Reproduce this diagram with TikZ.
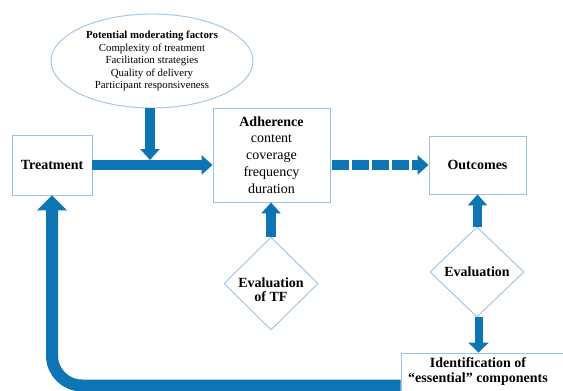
\documentclass[tikz,border=0pt]{standalone}
\usepackage{fontspec}
\setmainfont{Liberation Serif}
\usepackage{xcolor}
\usepackage{tikz}
\usetikzlibrary{arrows.meta}
\usetikzlibrary{shapes.geometric}
\definecolor{flowblue}{RGB}{14,117,181}
\definecolor{edgeblue}{RGB}{155,194,230}
\tikzset{
    box/.style={draw=edgeblue, line width=0.9pt, fill=white, rectangle, inner sep=0pt,
        font=\fontsize{14}{16.8}\selectfont, align=center},
    decision/.style={draw=edgeblue, line width=0.9pt, fill=white, diamond, inner sep=0pt},
    boxtext/.style={font=\fontsize{14}{14.5}\selectfont\bfseries, align=center, inner sep=0pt},
    blockarrow/.style={draw=flowblue, line width=9.5pt, -{Triangle[width=19pt, length=11pt]}},
    feedback/.style={draw=flowblue, line width=12pt, rounded corners=30pt,
        -{Triangle[width=29pt, length=15pt]}}
}
\begin{document}
\begin{tikzpicture}[x=1pt, y=-1pt]
    \useasboundingbox (0,0) rectangle (563,391);
    % boxes
    \node[draw=edgeblue, line width=0.9pt, ellipse, minimum width=202pt, minimum height=94pt, inner sep=0pt,
        font=\fontsize{10.8}{12.5}\selectfont, align=center] (factors) at (152,61)
        {\textbf{Potential moderating factors}\\Complexity of treatment\\Facilitation strategies\\Quality of delivery\\Participant responsiveness};
    \node[box, minimum width=80pt, minimum height=60pt] (treatment) at (52,165) {\textbf{Treatment}};
    \node[box, minimum width=117pt, minimum height=94pt] (adherence) at (271.5,155)
        {\textbf{Adherence}\\content\\coverage\\frequency\\duration};
    \node[box, minimum width=97pt, minimum height=58pt] (outcomes) at (477.5,165) {\textbf{Outcomes}};
    \node[decision, minimum width=94pt, minimum height=93pt,
        label={[boxtext, yshift=-6pt]center:Evaluation\\of TF}] (evaltf) at (271,283.5) {};
    \node[decision, minimum width=94pt, minimum height=90pt,
        label={[boxtext]center:Evaluation}] (evaluation) at (477,272) {};
    \node[box, minimum width=168pt, minimum height=65pt,
        label={[boxtext, xshift=-7pt, yshift=14pt]center:Identification of\\``essential'' components}] (identbox) at (485,385.5) {};
    \coordinate (merge) at (150,160);
    % arrows
    \draw[blockarrow] (factors.south -| merge) -- (merge);
    \draw[blockarrow] (treatment.east) -- (treatment.east -| adherence.west);
    \draw[blockarrow, dash pattern=on 16.5pt off 3.5pt, shorten <=2pt] (adherence.east |- outcomes.west) -- (outcomes.west);
    \draw[blockarrow, line width=10.5pt] (evaltf.north) -- (evaltf.north |- adherence.south);
    \draw[blockarrow] (evaluation.north -| outcomes.south) -- (outcomes.south);
    \draw[blockarrow, line width=8pt, -{Triangle[width=20pt, length=10pt]}] (evaluation.south) ++(1.5,0) coordinate (evalfoot) -- (evalfoot |- identbox.north);
    \draw[feedback] (identbox.west) -| (treatment.south);
\end{tikzpicture}
\end{document}
